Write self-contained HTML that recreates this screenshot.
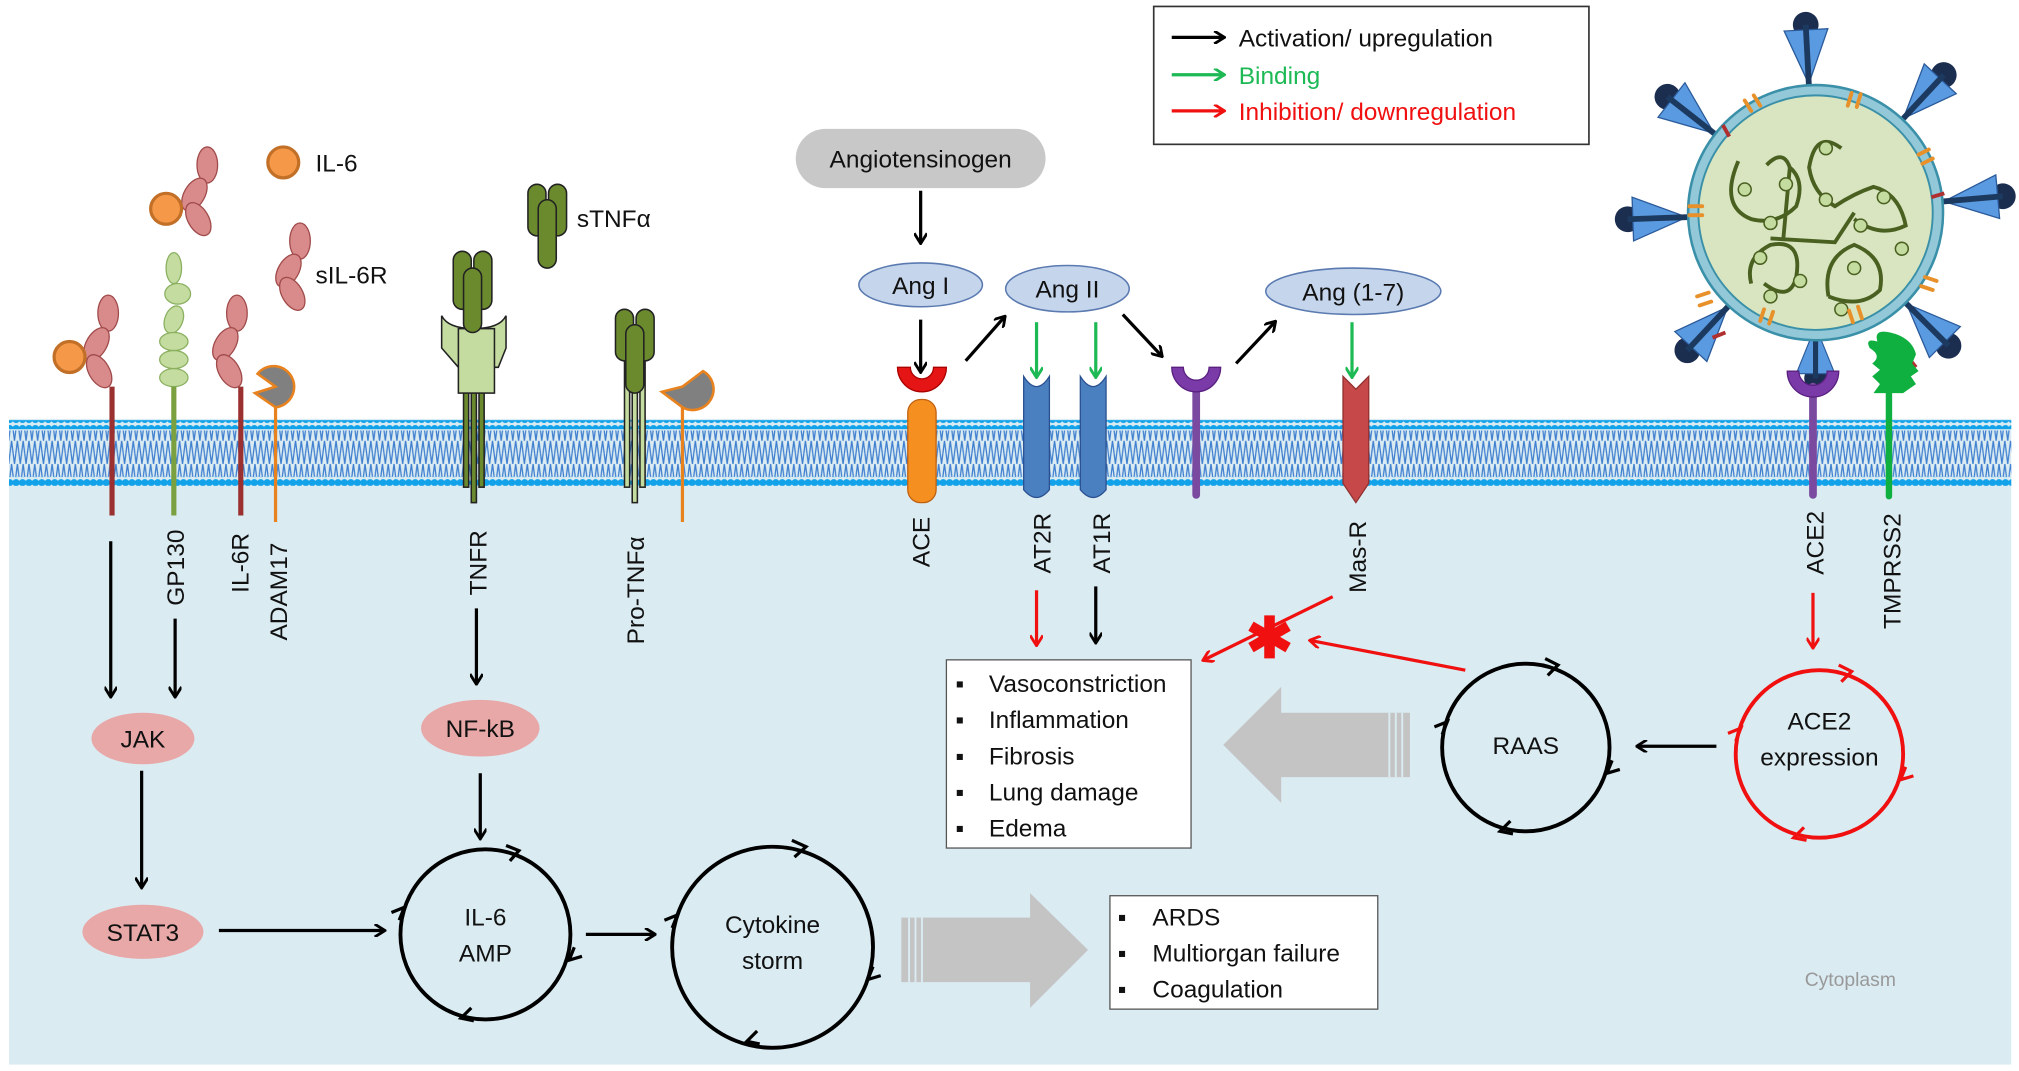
<!DOCTYPE html>
<html><head><meta charset="utf-8"><style>
html,body{margin:0;padding:0;background:#fff}
svg{display:block}
text{font-family:"Liberation Sans",sans-serif;font-size:19px;fill:#111}
</style></head><body>
<svg width="2019" height="1071" viewBox="0 0 1568 831" preserveAspectRatio="none" xmlns="http://www.w3.org/2000/svg">
<defs>
<marker id="ab" markerWidth="10" markerHeight="10" refX="8" refY="5" orient="auto" markerUnits="userSpaceOnUse"><path d="M1,0 L9,5 L1,10" fill="none" stroke="#000" stroke-width="2.2"/></marker>
<marker id="ag" markerWidth="10" markerHeight="10" refX="8" refY="5" orient="auto" markerUnits="userSpaceOnUse"><path d="M1,0 L9,5 L1,10" fill="none" stroke="#1db954" stroke-width="2.2"/></marker>
<marker id="ar" markerWidth="10" markerHeight="10" refX="8" refY="5" orient="auto" markerUnits="userSpaceOnUse"><path d="M1,0 L9,5 L1,10" fill="none" stroke="#f01010" stroke-width="2.2"/></marker>
<pattern id="dots" width="5" height="7" patternUnits="userSpaceOnUse"><circle cx="2.5" cy="3.5" r="2.8" fill="#12a2ea"/></pattern>
<pattern id="zig" width="4.5" height="18" patternUnits="userSpaceOnUse"><path d="M0,0 L2.25,18 L4.5,0" fill="none" stroke="#3f7fcf" stroke-width="1"/></pattern>
<g id="spike">
<circle cx="146" cy="0" r="10" fill="#1c2e50"/>
<path d="M100,0 L142,-17 L142,17Z" fill="#5a9ae0" stroke="#2a5a9a" stroke-width="1"/>
<line x1="92" y1="0" x2="146" y2="0" stroke="#1c3a60" stroke-width="4.5"/>
</g>
</defs>
<rect x="7" y="325" width="1555" height="501" fill="#daebf2"/>
<rect x="7" y="326" width="1555" height="7" fill="url(#dots)"/>
<rect x="7" y="334" width="1555" height="18" fill="url(#zig)"/>
<rect x="7" y="352" width="1555" height="18" fill="url(#zig)"/>
<rect x="7" y="370" width="1555" height="7" fill="url(#dots)"/>

<g stroke="#a04a4a" stroke-width="1" fill="#d98a8a">
<ellipse cx="84" cy="243" rx="8" ry="14"/><ellipse cx="75" cy="267" rx="8" ry="14" transform="rotate(30 75 267)"/><ellipse cx="77" cy="288" rx="8" ry="14" transform="rotate(-30 77 288)"/>
<ellipse cx="161" cy="128" rx="8" ry="14"/><ellipse cx="151" cy="151" rx="8" ry="14" transform="rotate(30 151 151)"/><ellipse cx="154" cy="170" rx="8" ry="14" transform="rotate(-30 154 170)"/>
<ellipse cx="184" cy="243" rx="8" ry="14"/><ellipse cx="175" cy="267" rx="8" ry="14" transform="rotate(30 175 267)"/><ellipse cx="178" cy="288" rx="8" ry="14" transform="rotate(-30 178 288)"/>
<ellipse cx="233" cy="187" rx="8" ry="14"/><ellipse cx="224" cy="210" rx="8" ry="14" transform="rotate(30 224 210)"/><ellipse cx="227" cy="228" rx="8" ry="14" transform="rotate(-30 227 228)"/>
</g>
<g fill="#f59848" stroke="#c27028" stroke-width="2.5"><circle cx="54" cy="277" r="12"/><circle cx="129" cy="162" r="12"/><circle cx="220" cy="126" r="12"/></g>
<line x1="87" y1="300" x2="87" y2="400" stroke="#9b3030" stroke-width="4"/>
<line x1="187" y1="300" x2="187" y2="400" stroke="#9b3030" stroke-width="4"/>
<g fill="#c5dca0" stroke="#8ab060" stroke-width="1"><ellipse cx="135" cy="208" rx="6" ry="12"/><ellipse cx="138" cy="228" rx="10" ry="8"/><ellipse cx="135" cy="248" rx="7" ry="11" transform="rotate(20 135 248)"/><ellipse cx="135" cy="265" rx="11" ry="7"/><ellipse cx="135" cy="279" rx="11" ry="7"/><ellipse cx="135" cy="293" rx="11" ry="7"/></g>
<line x1="135" y1="300" x2="135" y2="400" stroke="#7aa040" stroke-width="4"/>
<line x1="214" y1="315" x2="214" y2="405" stroke="#e8821e" stroke-width="2.5"/>
<path d="M214,316 A16,16 0 1,0 200,290 L214,300 L198,305 Z" fill="#808080" stroke="#e8821e" stroke-width="2"/>
<path d="M530,316 A16,16 0 1,0 546,288 L530,300 L514,304 Z" fill="#808080" stroke="#e8821e" stroke-width="2"/>
<line x1="530" y1="316" x2="530" y2="405" stroke="#e8821e" stroke-width="2.5"/>
<text x="245" y="133">IL-6</text><text x="245" y="220">sIL-6R</text><text x="448" y="176">sTNFα</text>

<g stroke="#222" stroke-width="1.2">
<rect x="360" y="280" width="4" height="98" fill="#6b8a2e"/><rect x="366" y="280" width="4" height="110" fill="#6b8a2e"/><rect x="372" y="280" width="4" height="98" fill="#6b8a2e"/>
<path d="M343,245 L343,270 L356,285 L387,285 L393,270 L393,245 Q388,255 368,255 Q348,255 343,245Z" fill="#c5dca0"/>
<rect x="356" y="255" width="28" height="50" fill="#c5dca0"/>
<rect x="352" y="195" width="14" height="45" rx="7" fill="#6b8a2e"/><rect x="368" y="195" width="14" height="45" rx="7" fill="#6b8a2e"/><rect x="360" y="208" width="14" height="50" rx="7" fill="#6b8a2e"/>
<rect x="410" y="143" width="14" height="40" rx="7" fill="#6b8a2e"/><rect x="426" y="143" width="14" height="40" rx="7" fill="#6b8a2e"/><rect x="418" y="155" width="14" height="53" rx="7" fill="#6b8a2e"/>
<rect x="485" y="280" width="4" height="98" fill="#c5dca0"/><rect x="491" y="280" width="4" height="110" fill="#c5dca0"/><rect x="497" y="280" width="4" height="98" fill="#c5dca0"/>
<rect x="478" y="240" width="14" height="40" rx="7" fill="#6b8a2e"/><rect x="494" y="240" width="14" height="40" rx="7" fill="#6b8a2e"/><rect x="486" y="252" width="14" height="53" rx="7" fill="#6b8a2e"/>
</g>

<g>
<text transform="translate(143,470) rotate(-90)">GP130</text>
<text transform="translate(193,460) rotate(-90)">IL-6R</text>
<text transform="translate(223,497) rotate(-90)">ADAM17</text>
<text transform="translate(378,462) rotate(-90)">TNFR</text>
<text transform="translate(500,500) rotate(-90)">Pro-TNFα</text>
<text transform="translate(722,440) rotate(-90)">ACE</text>
<text transform="translate(816,445) rotate(-90)">AT2R</text>
<text transform="translate(862,445) rotate(-90)">AT1R</text>
<text transform="translate(1061,460) rotate(-90)">Mas-R</text>
<text transform="translate(1416,446) rotate(-90)">ACE2</text>
<text transform="translate(1476,488) rotate(-90)">TMPRSS2</text>
</g>

<rect x="705" y="310" width="22" height="80" rx="10" fill="#f59020" stroke="#c06010"/>
<path d="M697,285 L707,285 A9,9 0 0,0 725,285 L735,285 A19,19 0 0,1 697,285Z" fill="#e51515" stroke="#a00" />
<path d="M795,292 L795,380 Q805,392 815,380 L815,292 Q805,308 795,292Z" fill="#4a7fc0" stroke="#2a5090"/>
<path d="M839,292 L839,380 Q849,392 859,380 L859,292 Q849,308 839,292Z" fill="#4a7fc0" stroke="#2a5090"/>
<line x1="929" y1="300" x2="929" y2="384" stroke="#7a4aa0" stroke-width="6" stroke-linecap="round"/>
<path d="M910,285 L919,285 A10,10 0 0,0 939,285 L948,285 A19,19 0 0,1 910,285Z" fill="#7a3aa8" stroke="#5a2080"/>
<path d="M1043,292 L1053,302 L1063,292 L1063,375 L1053,390 L1043,375Z" fill="#c74848" stroke="#903030"/>

<g>
<use href="#spike" transform="translate(1410,165) rotate(-93)"/>
<use href="#spike" transform="translate(1410,165) rotate(-47)"/>
<use href="#spike" transform="translate(1410,165) rotate(-5)"/>
<use href="#spike" transform="translate(1410,165) rotate(45)"/>
<use href="#spike" transform="translate(1410,165) rotate(90) scale(0.88)"/>
<use href="#spike" transform="translate(1410,165) rotate(133)"/>
<use href="#spike" transform="translate(1410,165) rotate(178)"/>
<use href="#spike" transform="translate(1410,165) rotate(-142)"/>
<circle cx="1410" cy="165" r="99" fill="#92c8d8" stroke="#3a90a8" stroke-width="2"/>
<circle cx="1410" cy="165" r="91" fill="#d8e5c0" stroke="#3a90a8" stroke-width="1.5"/>
<g stroke="#4a6020" stroke-width="3" fill="none">
<path d="M1350,125 Q1335,160 1360,170 Q1380,175 1395,160 Q1402,140 1390,130 Q1385,115 1372,128"/>
<path d="M1430,115 Q1410,100 1405,130 Q1408,150 1425,160 Q1440,150 1455,145 Q1475,150 1480,175 Q1460,185 1440,170"/>
<path d="M1360,220 Q1355,200 1375,190 Q1400,185 1395,215 Q1390,235 1370,220"/>
<path d="M1420,230 Q1415,200 1440,190 Q1465,200 1460,225 Q1445,240 1420,230"/>
<path d="M1375,185 L1425,188 L1440,165 M1390,130 L1385,185"/>
</g>
<g fill="#c5dca0" stroke="#4a6020" stroke-width="1.2"><circle cx="1355" cy="147" r="5"/><circle cx="1387" cy="143" r="5"/><circle cx="1375" cy="173" r="5"/><circle cx="1418" cy="115" r="5"/><circle cx="1418" cy="155" r="5"/><circle cx="1463" cy="153" r="5"/><circle cx="1477" cy="193" r="5"/><circle cx="1440" cy="208" r="5"/><circle cx="1398" cy="218" r="5"/><circle cx="1367" cy="200" r="5"/><circle cx="1375" cy="230" r="5"/><circle cx="1430" cy="240" r="5"/><circle cx="1445" cy="175" r="5"/></g>
<g stroke="#e8902a" stroke-width="3" stroke-linecap="round" fill="none">
<path d="M1355,78 l5,8 M1362,74 l5,8"/><path d="M1438,72 l-3,10 M1445,73 l-3,10"/><path d="M1490,120 l8,-4 M1493,127 l8,-4"/><path d="M1495,215 l9,3 M1492,222 l9,3"/><path d="M1443,238 l3,9 M1436,241 l3,9"/><path d="M1370,240 l-3,9 M1377,242 l-3,9"/><path d="M1312,160 l10,0 M1312,167 l10,0"/><path d="M1318,230 l9,-3 M1320,237 l9,-3"/>
</g>
<g stroke="#b03030" stroke-width="3"><line x1="1338" y1="97" x2="1343" y2="106"/><line x1="1500" y1="153" x2="1510" y2="150"/><line x1="1330" y1="262" x2="1340" y2="258"/><line x1="1488" y1="285" x2="1484" y2="280"/></g>
</g>
<line x1="1408" y1="300" x2="1408" y2="384" stroke="#7a4aa0" stroke-width="6" stroke-linecap="round"/>
<path d="M1388,288 L1397,288 A11,11 0 0,0 1419,288 L1428,288 A20,20 0 0,1 1388,288Z" fill="#7a3aa8" stroke="#5a2080"/>
<line x1="1467" y1="300" x2="1467" y2="385" stroke="#10b040" stroke-width="5" stroke-linecap="round"/>
<path d="M1452,270 Q1448,262 1458,265 Q1455,255 1468,258 Q1485,262 1488,275 L1485,282 L1490,288 L1484,292 L1488,298 L1478,305 L1455,305 L1460,298 L1454,292 L1460,287 L1454,282 Q1462,276 1452,270Z" fill="#10b040"/>

<rect x="896" y="5" width="338" height="107" fill="#fff" stroke="#333" stroke-width="1.3"/>
<line x1="910" y1="29" x2="950" y2="29" stroke="#000" stroke-width="2.5" marker-end="url(#ab)"/>
<line x1="910" y1="58" x2="950" y2="58" stroke="#1db954" stroke-width="2.5" marker-end="url(#ag)"/>
<line x1="910" y1="86" x2="950" y2="86" stroke="#f01010" stroke-width="2.5" marker-end="url(#ar)"/>
<text x="962" y="36">Activation/ upregulation</text>
<text x="962" y="65" style="fill:#1db954">Binding</text>
<text x="962" y="93" style="fill:#f01010">Inhibition/ downregulation</text>

<rect x="618" y="100" width="194" height="46" rx="23" fill="#c8c8c8"/>
<text x="715" y="130" text-anchor="middle">Angiotensinogen</text>
<g fill="#c5d5ec" stroke="#5a7ab0" stroke-width="1.2">
<ellipse cx="715" cy="221" rx="48" ry="17"/><ellipse cx="829" cy="224" rx="48" ry="18"/><ellipse cx="1051" cy="226" rx="68" ry="18"/></g>
<text x="715" y="228" text-anchor="middle">Ang I</text><text x="829" y="231" text-anchor="middle">Ang II</text><text x="1051" y="233" text-anchor="middle">Ang (1-7)</text>

<g stroke="#000" stroke-width="2.5" fill="none" marker-end="url(#ab)">
<line x1="715" y1="148" x2="715" y2="188"/>
<line x1="715" y1="248" x2="715" y2="288"/>
<line x1="750" y1="280" x2="780" y2="246"/>
<line x1="872" y1="244" x2="902" y2="276"/>
<line x1="960" y1="282" x2="990" y2="250"/>
<line x1="851" y1="455" x2="851" y2="498"/>
<line x1="86" y1="420" x2="86" y2="540"/>
<line x1="136" y1="480" x2="136" y2="540"/>
<line x1="370" y1="472" x2="370" y2="530"/>
<line x1="110" y1="598" x2="110" y2="688"/>
<line x1="373" y1="600" x2="373" y2="650"/>
<line x1="170" y1="722" x2="298" y2="722"/>
<line x1="455" y1="725" x2="508" y2="725"/>
<line x1="1333" y1="579" x2="1272" y2="579"/>
</g>
<g stroke="#1db954" stroke-width="2.5" marker-end="url(#ag)"><line x1="805" y1="250" x2="805" y2="292"/><line x1="851" y1="250" x2="851" y2="292"/><line x1="1050" y1="250" x2="1050" y2="292"/></g>
<g stroke="#f01010" stroke-width="2.5" marker-end="url(#ar)">
<line x1="805" y1="458" x2="805" y2="500"/>
<line x1="1408" y1="460" x2="1408" y2="502"/>
<line x1="1035" y1="463" x2="935" y2="512"/>
<line x1="1138" y1="520" x2="1018" y2="497"/>
</g>
<text x="986" y="510" text-anchor="middle" style="font-size:44px;font-weight:bold;fill:#f01010">✱</text>

<rect x="735" y="512" width="190" height="146" fill="#fff" stroke="#555" stroke-width="1"/>
<g><text x="742" y="537">▪</text><text x="768" y="537">Vasoconstriction</text>
<text x="742" y="565">▪</text><text x="768" y="565">Inflammation</text>
<text x="742" y="593">▪</text><text x="768" y="593">Fibrosis</text>
<text x="742" y="621">▪</text><text x="768" y="621">Lung damage</text>
<text x="742" y="649">▪</text><text x="768" y="649">Edema</text></g>
<rect x="862" y="695" width="208" height="88" fill="#fff" stroke="#555" stroke-width="1"/>
<g><text x="868" y="718">▪</text><text x="895" y="718">ARDS</text>
<text x="868" y="746">▪</text><text x="895" y="746">Multiorgan failure</text>
<text x="868" y="774">▪</text><text x="895" y="774">Coagulation</text></g>

<path d="M700,712 L800,712 L800,693 L845,737 L800,782 L800,762 L700,762Z" fill="#c4c4c4"/>
<g stroke="#daebf2" stroke-width="1.5"><line x1="706" y1="712" x2="706" y2="762"/><line x1="711" y1="712" x2="711" y2="762"/><line x1="716" y1="712" x2="716" y2="762"/></g>
<path d="M1095,553 L995,553 L995,533 L950,578 L995,623 L995,603 L1095,603Z" fill="#c4c4c4"/>
<g stroke="#daebf2" stroke-width="1.5"><line x1="1089" y1="553" x2="1089" y2="603"/><line x1="1084" y1="553" x2="1084" y2="603"/><line x1="1079" y1="553" x2="1079" y2="603"/></g>

<ellipse cx="111" cy="573" rx="40" ry="20" fill="#e8a8a8"/><text x="111" y="580" text-anchor="middle">JAK</text>
<ellipse cx="111" cy="723" rx="47" ry="21" fill="#e8a8a8"/><text x="111" y="730" text-anchor="middle">STAT3</text>
<ellipse cx="373" cy="565" rx="46" ry="22" fill="#e8a8a8"/><text x="373" y="572" text-anchor="middle">NF-kB</text>

<g fill="none" stroke-width="3">
<circle cx="377" cy="725" r="66" stroke="#000"/>
<circle cx="600" cy="735" r="78" stroke="#000"/>
<circle cx="1185" cy="580" r="65" stroke="#000"/>
<circle cx="1413" cy="585" r="65" stroke="#f01010"/>
</g>
<g fill="none" stroke="#000" stroke-width="2.5">
<path d="M393,656 L403,660 L396,668"/><path d="M446,735 L442,745 L452,742"/><path d="M368,792 L358,790 L366,782"/><path d="M310,714 L314,704 L304,708"/>
<path d="M615,652 L626,657 L617,665"/><path d="M678,750 L674,760 L684,757"/><path d="M590,810 L580,808 L588,800"/><path d="M522,720 L526,710 L516,714"/>
<path d="M1200,511 L1210,516 L1202,524"/><path d="M1252,590 L1248,600 L1258,597"/><path d="M1175,647 L1165,645 L1173,637"/><path d="M1120,570 L1124,560 L1114,564"/>
</g>
<g fill="none" stroke="#f01010" stroke-width="2.5">
<path d="M1428,516 L1438,521 L1430,529"/><path d="M1480,595 L1476,605 L1486,602"/><path d="M1403,652 L1393,650 L1401,642"/><path d="M1348,575 L1352,565 L1342,569"/>
</g>
<text x="377" y="718" text-anchor="middle">IL-6</text><text x="377" y="746" text-anchor="middle">AMP</text>
<text x="600" y="724" text-anchor="middle">Cytokine</text><text x="600" y="752" text-anchor="middle">storm</text>
<text x="1185" y="585" text-anchor="middle">RAAS</text>
<text x="1413" y="566" text-anchor="middle">ACE2</text><text x="1413" y="594" text-anchor="middle">expression</text>
<text x="1437" y="765" text-anchor="middle" style="font-size:15px;fill:#999">Cytoplasm</text>
</svg>
</body></html>
